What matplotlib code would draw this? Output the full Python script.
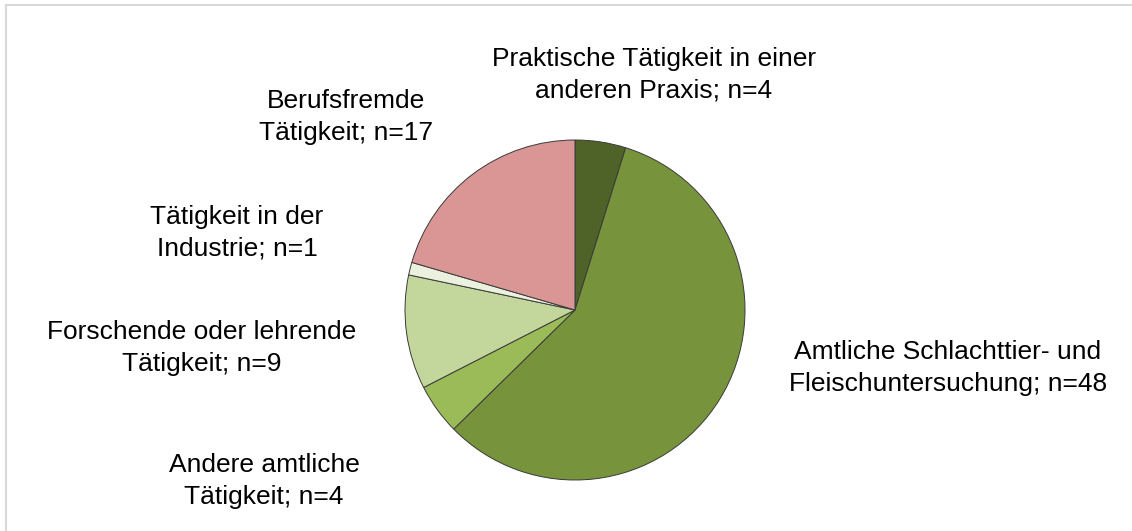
import matplotlib

matplotlib.use("Agg")
import matplotlib.pyplot as plt
from matplotlib.lines import Line2D

plt.rcParams["font.family"] = ["Liberation Sans", "DejaVu Sans"]

W, H = 1132, 531

labels = [
    "Praktische Tätigkeit in einer\nanderen Praxis; n=4",
    "Amtliche Schlachttier- und\nFleischuntersuchung; n=48",
    "Andere amtliche\nTätigkeit; n=4",
    "Forschende oder lehrende\nTätigkeit; n=9",
    "Tätigkeit in der\nIndustrie; n=1",
    "Berufsfremde\nTätigkeit; n=17",
]
counts = [4, 48, 4, 9, 1, 17]
colors = ["#4f6228", "#77933c", "#9bbb59", "#c3d69b", "#ebf1de", "#d99694"]

# label centres in pixel coordinates (from top-left)
label_pos = [(654, 75), (948, 368), (264, 481), (202, 348), (237, 233), (346, 117)]

fig = plt.figure(figsize=(W / 100, H / 100), dpi=100)
fig.patch.set_facecolor("white")

# thin grey frame along the top and left of the chart area
frame = dict(transform=fig.transFigure, color="#d9d9d9", linewidth=1.5)
fig.lines.append(Line2D([6 / W, 1.0], [1 - 5 / H, 1 - 5 / H], **frame))
fig.lines.append(Line2D([6 / W, 6 / W], [0.0, 1 - 5 / H], **frame))

cx, cy, r = 575, 310, 170
ax = fig.add_axes([(cx - r) / W, (H - cy - r) / H, 2 * r / W, 2 * r / H])
ax.pie(counts, colors=colors, startangle=90, counterclock=False, radius=1,
       wedgeprops=dict(edgecolor="#3a3a3a", linewidth=0.7))
ax.set_xlim(-1.0, 1.0)
ax.set_ylim(-1.0, 1.0)
ax.set_aspect("equal")
ax.set_axis_off()

for text, (x, y) in zip(labels, label_pos):
    fig.text(x / W, 1 - y / H, text, ha="center", va="center",
             fontsize=19, linespacing=1.4, color="black")

fig.savefig("out.png", dpi=100)
